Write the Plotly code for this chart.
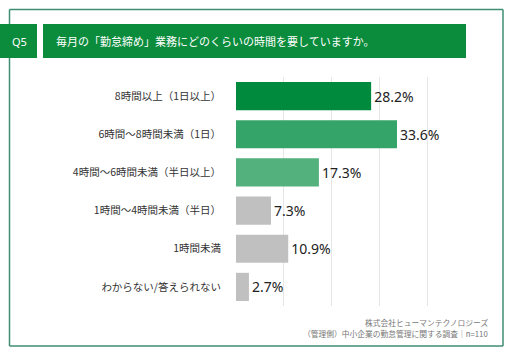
import plotly.graph_objects as go

categories = ["8時間以上（1日以上）", "6時間～8時間未満（1日）", "4時間～6時間未満（半日以上）",
              "1時間～4時間未満（半日）", "1時間未満", "わからない/答えられない"]
values = [28.2, 33.6, 17.3, 7.3, 10.9, 2.7]
bar_colors = ["#008a3e", "#35a468", "#52b17d", "#c0c0c0", "#c0c0c0", "#c0c0c0"]
title_text = "毎月の「勤怠締め」業務にどのくらいの時間を要していますか。"
q_label = "Q5"
footer_lines = ["株式会社ヒューマンテクノロジーズ", "（管理側）中小企業の勤怠管理に関する調査｜n=110"]

W, H = 512, 355
L, R, T, B = 236, 46, 77, 49
PW, PH = W - L - R, H - T - B

def px(x):
    return (x - L) / PW

def py(y):
    return 1 - (y - T) / PH

fig = go.Figure(go.Bar(
    x=values, y=categories, orientation="h",
    marker=dict(color=bar_colors, line=dict(width=0)),
    width=0.74,
    text=[f"{v:.1f}%" for v in values], textposition="outside",
    textfont=dict(family="Noto Sans, Noto Sans CJK JP", size=14, color="#222222"),
    cliponaxis=False, hoverinfo="skip",
))

bl, br, bt, bb = 9.5, 503, 9.5, 346
border = dict(color="#3f8e74", width=1.5)
shapes = [
    dict(type="line", xref="paper", yref="paper", x0=px(bl), x1=px(br), y0=py(bt), y1=py(bt), line=border),
    dict(type="line", xref="paper", yref="paper", x0=px(bl), x1=px(br), y0=py(bb), y1=py(bb), line=border),
    dict(type="line", xref="paper", yref="paper", x0=px(bl), x1=px(bl), y0=py(bt), y1=py(bb), line=border),
    dict(type="line", xref="paper", yref="paper", x0=px(br), x1=px(br), y0=py(bt), y1=py(bb), line=border),
    dict(type="rect", xref="paper", yref="paper", x0=px(0), x1=px(37), y0=py(24), y1=py(58),
         line=dict(width=0), fillcolor="#0a8c3c"),
    dict(type="rect", xref="paper", yref="paper", x0=px(43), x1=px(466), y0=py(24), y1=py(58),
         line=dict(width=0), fillcolor="#0a8c3c"),
]

annotations = [
    dict(xref="paper", yref="paper", x=px(19), y=py(41), text=q_label, showarrow=False,
         font=dict(family="Noto Sans, Noto Sans CJK JP", size=11, color="white"), xanchor="center", yanchor="middle"),
    dict(xref="paper", yref="paper", x=px(54), y=py(41), text=title_text, showarrow=False,
         font=dict(family="Noto Sans CJK JP", size=11, color="white"), xanchor="left", yanchor="middle"),
    dict(xref="paper", yref="paper", x=px(490), y=py(322), text=footer_lines[0], showarrow=False,
         font=dict(family="Noto Sans CJK JP", size=7.75, color="#777777"), xanchor="right", yanchor="middle"),
    dict(xref="paper", yref="paper", x=px(490), y=py(333), text=footer_lines[1], showarrow=False,
         font=dict(family="Noto Sans CJK JP", size=7.75, color="#777777"), xanchor="right", yanchor="middle"),
]

fig.update_layout(
    width=W, height=H, margin=dict(l=L, r=R, t=T, b=B),
    paper_bgcolor="white", plot_bgcolor="white",
    showlegend=False, bargap=0.26,
    shapes=shapes, annotations=annotations,
    xaxis=dict(range=[0, 48], dtick=10, showgrid=True, gridcolor="#e6e6e6", gridwidth=1,
               showticklabels=False, zeroline=False, showline=False, ticks=""),
    yaxis=dict(autorange="reversed", showgrid=False, zeroline=False, showline=False, ticks="",
               ticklabelstandoff=14,
               tickfont=dict(family="Noto Sans CJK JP", size=10.5, color="#333333")),
)

fig.write_html("out.html", config={"displayModeBar": False})

with open("out.html", "r", encoding="utf-8") as f:
    html = f.read()
html = html.replace("<head>", "<head><style>html,body{margin:0;padding:0;overflow:hidden;}</style>", 1)
with open("out.html", "w", encoding="utf-8") as f:
    f.write(html)
